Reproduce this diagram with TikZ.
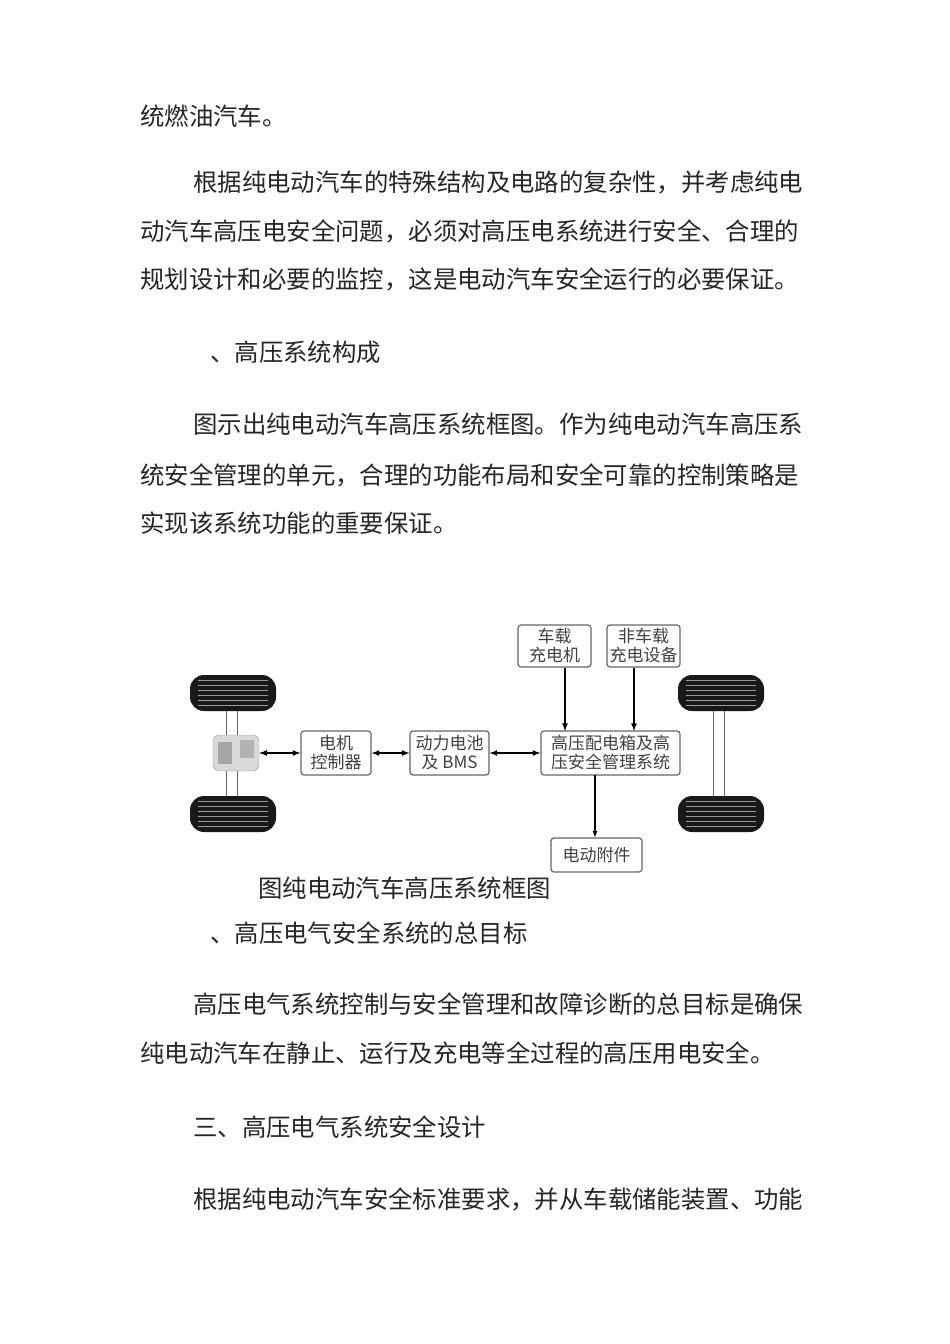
\documentclass[tikz,border=0pt]{standalone}
\usepackage{fontspec}
\newfontfamily\cjk{Noto Sans CJK SC}
\begin{document}
\begin{tikzpicture}[x=1pt,y=-1pt,
  para/.style={anchor=west,inner sep=0pt,font=\cjk\fontsize{24.4}{26}\selectfont,text=black!85},
  box/.style={draw=black!60,line width=1.2pt,rounded corners=3pt,inner sep=0pt,align=center,font=\cjk\fontsize{17}{19}\selectfont,text=black!75},
  arr/.style={line width=1.6pt,-latex},
  darr/.style={line width=1.6pt,latex-latex}]
\useasboundingbox (0,0) rectangle (950,1344);
\node[para] (p1) at (140,116) {统燃油汽车。};
\node[para] (p2) at (193,182) {根据纯电动汽车的特殊结构及电路的复杂性，并考虑纯电};
\node[para] (p3) at (140,231) {动汽车高压电安全问题，必须对高压电系统进行安全、合理的};
\node[para] (p4) at (140,279) {规划设计和必要的监控，这是电动汽车安全运行的必要保证。};
\node[para] (h1) at (210,352) {、高压系统构成};
\node[para] (p5) at (193,424) {图示出纯电动汽车高压系统框图。作为纯电动汽车高压系};
\node[para] (p6) at (140,475) {统安全管理的单元，合理的功能布局和安全可靠的控制策略是};
\node[para] (p7) at (140,523) {实现该系统功能的重要保证。};
\node[para] (cap) at (258,888) {图纯电动汽车高压系统框图};
\node[para] (h2) at (210,933) {、高压电气安全系统的总目标};
\node[para] (p8) at (193,1004) {高压电气系统控制与安全管理和故障诊断的总目标是确保};
\node[para] (p9) at (140,1053) {纯电动汽车在静止、运行及充电等全过程的高压用电安全。};
\node[para] (h3) at (193,1127) {三、高压电气系统安全设计};
\node[para] (p10) at (193,1199) {根据纯电动汽车安全标准要求，并从车载储能装置、功能};
% wheels
\foreach \x in {190,678}{
  \foreach \y in {675,796}{
    \fill[black!90,rounded corners=14pt] (\x,\y) rectangle ++(86,36);
    \foreach \k in {5,10,...,31} \draw[white!60!black,line width=0.4pt] (\x+8,\y+\k) -- (\x+78,\y+\k);
  }}
\draw[black!60,line width=1pt] (226,711) -- (226,796) (237,711) -- (237,796);
\draw[black!60,line width=1pt] (713,711) -- (713,796) (724,711) -- (724,796);
% motor
\node[draw=black!40,fill=black!15,minimum width=46pt,minimum height=36pt,rounded corners=6pt,inner sep=0pt] (mot) at (236,753) {};
\fill[black!35] (218,742) rectangle (232,764);
\fill[black!30] (240,740) rectangle (254,758);
% boxes
\node[box,minimum width=73pt,minimum height=42pt] (obc) at (554.5,646) {车载\\充电机};
\node[box,minimum width=73pt,minimum height=42pt] (offc) at (643.5,646) {非车载\\充电设备};
\node[box,minimum width=70pt,minimum height=44pt] (mc) at (336,753) {电机\\控制器};
\node[box,minimum width=79pt,minimum height=44pt] (bat) at (449.5,753) {动力电池\\及 BMS};
\node[box,minimum width=139pt,minimum height=44pt] (hv) at (610.5,753) {高压配电箱及高\\压安全管理系统};
\node[box,minimum width=91pt,minimum height=34pt] (acc) at (596.5,855) {电动附件};
% connectors
\draw[darr] (mot.east) -- (mc.west);
\draw[darr] (mc.east) -- (bat.west);
\draw[darr] (bat.east) -- (hv.west);
\draw[arr] (obc.south -| 565,0) -- (565,731);
\draw[arr] (offc.south -| 634,0) -- (634,731);
\draw[arr,line width=1.2pt] (595,775) -- (acc.north -| 595,0);
\end{tikzpicture}
\end{document}
